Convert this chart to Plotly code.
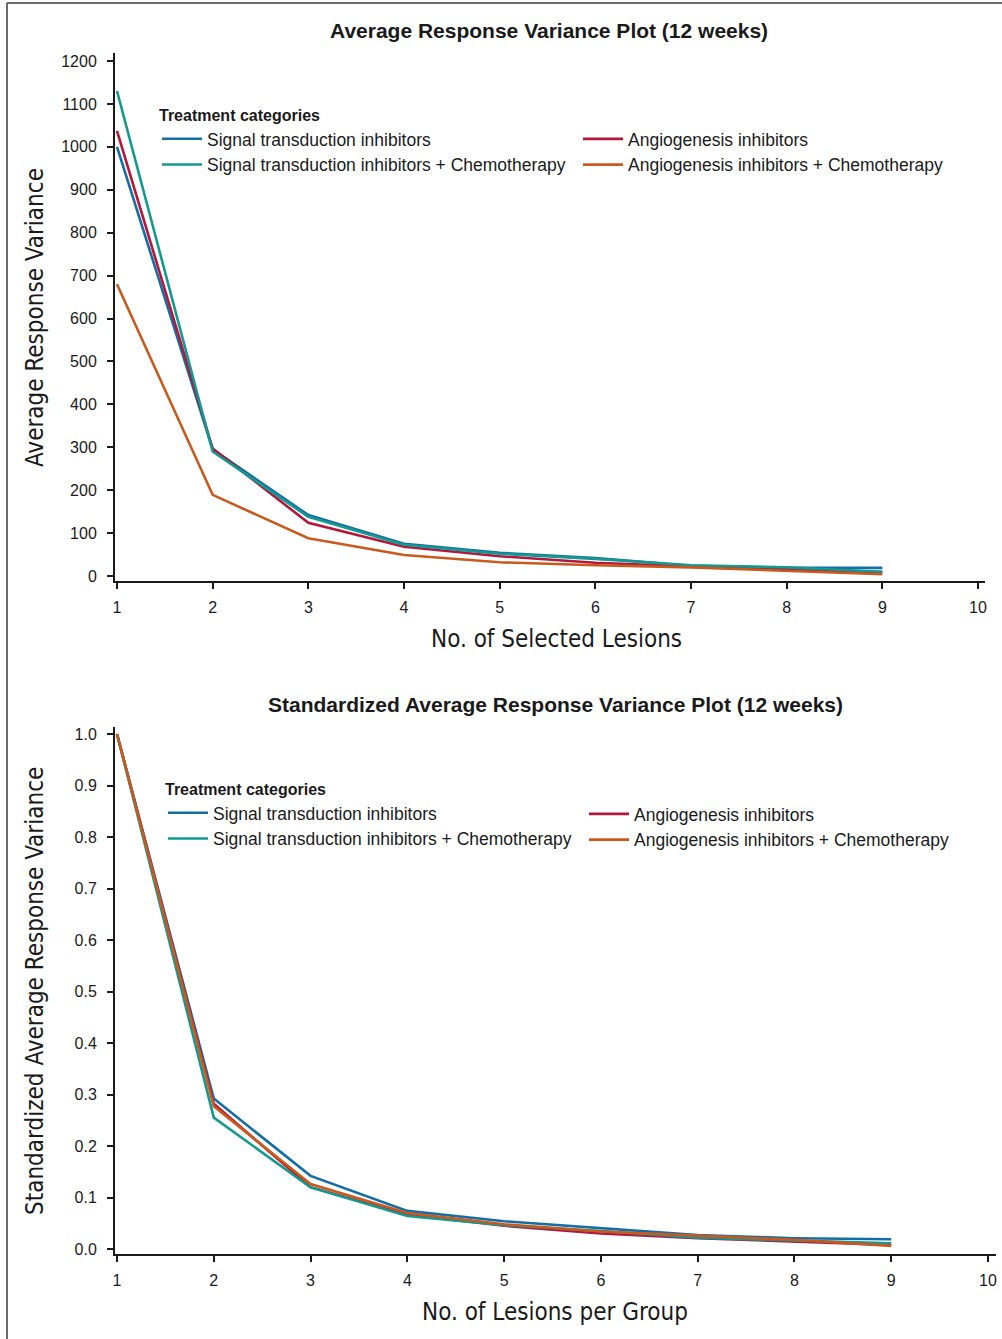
import plotly.graph_objects as go

W, H = 1002, 1339

lesions = [1, 2, 3, 4, 5, 6, 7, 8, 9]
series_names = [
    "Signal transduction inhibitors",
    "Angiogenesis inhibitors",
    "Signal transduction inhibitors + Chemotherapy",
    "Angiogenesis inhibitors + Chemotherapy",
]
# Average response variance (top panel)
avg_sti = [1000, 295, 142, 75, 54, 42, 24, 19, 19]
avg_ang = [1037, 297, 124, 68, 46, 31, 22, 15, 9]
avg_sti_chemo = [1130, 290, 138, 73, 52, 40, 25, 20, 10]
avg_ang_chemo = [680, 189, 88, 49, 32, 25, 20, 12, 4]
# Standardized average response variance (bottom panel)
std_sti = [1.0, 0.292, 0.142, 0.074, 0.054, 0.040, 0.027, 0.021, 0.019]
std_ang = [1.0, 0.282, 0.120, 0.067, 0.045, 0.030, 0.021, 0.015, 0.008]
std_sti_chemo = [1.0, 0.255, 0.120, 0.064, 0.046, 0.035, 0.022, 0.017, 0.011]
std_ang_chemo = [1.0, 0.277, 0.126, 0.070, 0.048, 0.034, 0.026, 0.018, 0.006]

top_yticks = [0, 100, 200, 300, 400, 500, 600, 700, 800, 900, 1000, 1100, 1200]
bot_yticks = [0.0, 0.1, 0.2, 0.3, 0.4, 0.5, 0.6, 0.7, 0.8, 0.9, 1.0]
xticks = [1, 2, 3, 4, 5, 6, 7, 8, 9, 10]

colors = ["#146ea6", "#b3173c", "#13998f", "#c95a1e"]

top_title = "Average Response Variance Plot (12 weeks)"
bot_title = "Standardized Average Response Variance Plot (12 weeks)"
top_xtitle = "No. of Selected Lesions"
bot_xtitle = "No. of Lesions per Group"
top_ytitle = "Average Response Variance"
bot_ytitle = "Standardized Average Response Variance"
legend_title = "Treatment categories"

def px(x):
    return x / W

def py(y):
    return 1 - y / H

SANS = "Liberation Sans, Arial, sans-serif"
NARROW = "Liberation Sans Narrow, DejaVu Sans Condensed, Roboto, Liberation Sans, sans-serif"

fig = go.Figure()

top_data = [avg_sti, avg_ang, avg_sti_chemo, avg_ang_chemo]
bot_data = [std_sti, std_ang, std_sti_chemo, std_ang_chemo]
top_legends = ["legend", "legend2", "legend", "legend2"]
bot_legends = ["legend3", "legend4", "legend3", "legend4"]

for i, name in enumerate(series_names):
    fig.add_trace(go.Scatter(
        x=lesions, y=top_data[i], mode="lines", name=name,
        line=dict(color=colors[i], width=2.6),
        xaxis="x", yaxis="y", legend=top_legends[i]))
for i, name in enumerate(series_names):
    fig.add_trace(go.Scatter(
        x=lesions, y=bot_data[i], mode="lines", name=name,
        line=dict(color=colors[i], width=2.6),
        xaxis="x2", yaxis="y2", legend=bot_legends[i]))

axis_common = dict(
    showline=True, linecolor="#1a1a1a", linewidth=2,
    ticks="outside", ticklen=6, tickwidth=1.5, tickcolor="#1a1a1a",
    showgrid=False, zeroline=False, automargin=False,
    tickfont=dict(family=SANS, size=16, color="#1a1a1a"),
    fixedrange=True,
)

# pixel calibration
tx_slope = (978 - 117) / 9.0
ty_slope = (576 - 61) / 1200.0
bx_slope = (988 - 117) / 9.0
by_slope = (1249 - 734) / 1.0

fig.update_layout(
    width=W, height=H,
    margin=dict(l=0, r=0, t=0, b=0),
    paper_bgcolor="white", plot_bgcolor="white",
    showlegend=True,
    xaxis=dict(axis_common, domain=[px(115), px(985)],
               range=[1 - 2 / tx_slope, 10 + 7 / tx_slope],
               tickvals=xticks, anchor="y", ticklabelstandoff=5),
    yaxis=dict(axis_common, domain=[py(581), py(53)],
               range=[-5 / ty_slope, 1200 + 8 / ty_slope],
               tickvals=top_yticks, anchor="x", ticklabelstandoff=7),
    xaxis2=dict(axis_common, domain=[px(115), px(996)],
                range=[1 - 2 / bx_slope, 10 + 8 / bx_slope],
                tickvals=xticks, anchor="y2", ticklabelstandoff=5),
    yaxis2=dict(axis_common, domain=[py(1254), py(727)],
                range=[-5 / by_slope, 1 + 7 / by_slope],
                tickvals=bot_yticks, tickformat=".1f", anchor="x2",
                ticklabelstandoff=7),
)

leg_common = dict(
    bgcolor="rgba(0,0,0,0)", borderwidth=0,
    font=dict(family=SANS, size=17.5, color="#1a1a1a"),
    xanchor="left", yanchor="top", orientation="v",
    itemclick=False, itemdoubleclick=False, tracegroupgap=0,
    itemwidth=40,
)
title_font = dict(family=SANS, size=16, color="#1a1a1a")
fig.update_layout(
    legend=dict(leg_common, x=px(157), y=py(100),
                title=dict(text="<b>" + legend_title + "</b>", font=title_font)),
    legend2=dict(leg_common, x=px(578), y=py(121)),
    legend3=dict(leg_common, x=px(163), y=py(774),
                 title=dict(text="<b>" + legend_title + "</b>", font=title_font)),
    legend4=dict(leg_common, x=px(584), y=py(796)),
)

annotations = [
    dict(text="<b>" + top_title + "</b>", x=px(549), y=py(31),
         font=dict(family=SANS, size=21, color="#1a1a1a")),
    dict(text="<b>" + bot_title + "</b>", x=px(555), y=py(704),
         font=dict(family=SANS, size=21, color="#1a1a1a")),
    dict(text=top_xtitle, x=px(556), y=py(639),
         font=dict(family=NARROW, size=24, color="#1a1a1a")),
    dict(text=bot_xtitle, x=px(555), y=py(1312),
         font=dict(family=NARROW, size=24, color="#1a1a1a")),
    dict(text=top_ytitle, x=px(35), y=py(318), textangle=-90,
         font=dict(family=NARROW, size=24, color="#1a1a1a")),
    dict(text=bot_ytitle, x=px(35), y=py(991), textangle=-90,
         font=dict(family=NARROW, size=24, color="#1a1a1a")),
]
for a in annotations:
    a.update(xref="paper", yref="paper", showarrow=False,
             xanchor="center", yanchor="middle")
fig.update_layout(annotations=annotations)

# partial frame around the figure (left and top edges)
fig.update_layout(shapes=[
    dict(type="line", xref="paper", yref="paper", x0=px(7), x1=px(7),
         y0=py(3), y1=0, line=dict(color="#6b6b6b", width=2)),
    dict(type="line", xref="paper", yref="paper", x0=px(7), x1=1,
         y0=py(3), y1=py(3), line=dict(color="#6b6b6b", width=2)),
])

fig.write_html(
    "out.html",
    config={"displayModeBar": False},
    post_script="document.body.style.margin='0';document.body.style.padding='0';",
)
